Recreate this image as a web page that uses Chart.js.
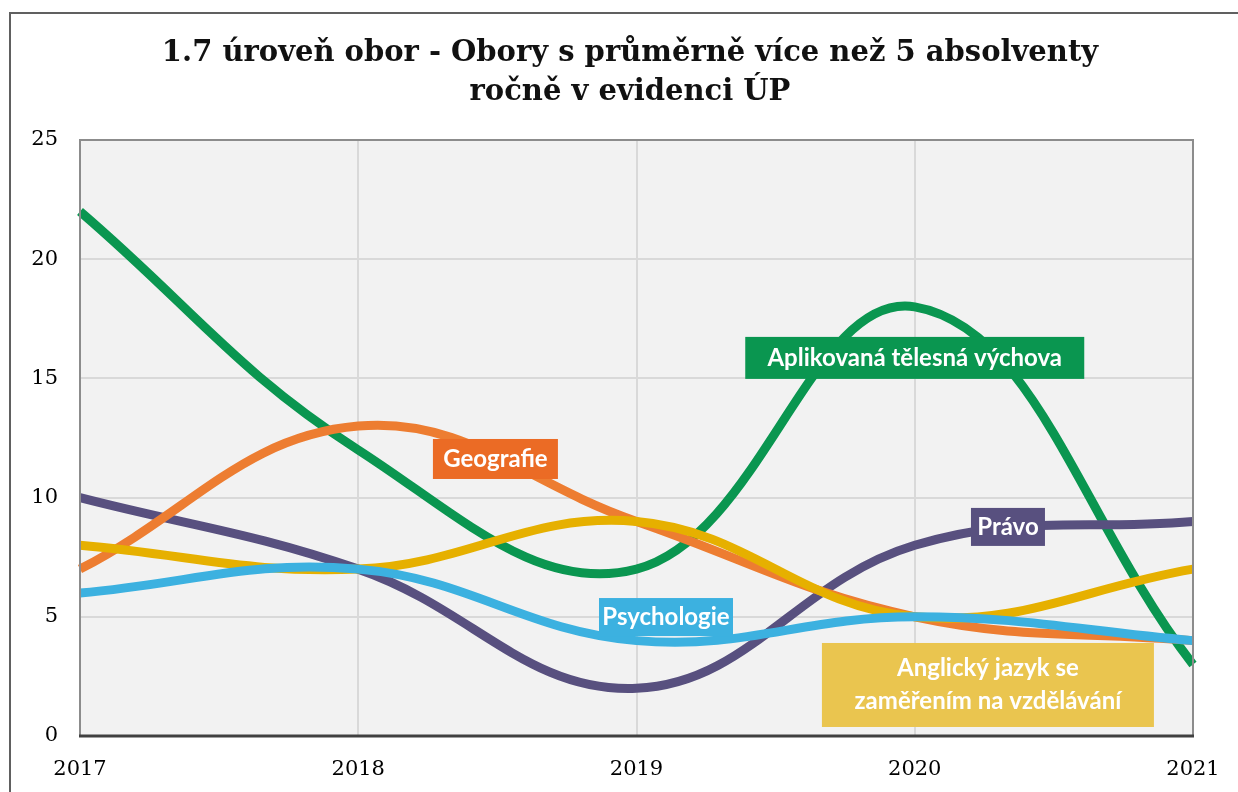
<!DOCTYPE html>
<html>
<head>
<meta charset="utf-8">
<script src="https://cdn.jsdelivr.net/npm/chart.js@4/dist/chart.umd.min.js"></script>
<style>
  html, body { margin: 0; padding: 0; background: #fff; }
  #wrap { width: 1238px; height: 792px; position: relative; }
</style>
</head>
<body>
<div id="wrap"><canvas id="chart" width="1238" height="792"></canvas></div>
<script>
// data
const years = ["2017", "2018", "2019", "2020", "2021"];
const aplikovana = [22, 12, 7, 18, 3];
const geografie = [7, 13, 9, 5, 4];
const pravo = [10, 7, 2, 8, 9];
const anglicky = [8, 7, 9, 5, 7];
const psychologie = [6, 7, 4, 5, 4];
const yTicks = [0, 5, 10, 15, 20, 25];

const titleLines = ["1.7 úroveň obor - Obory s průměrně více než 5 absolventy", "ročně v evidenci ÚP"];

// label boxes, anchored in data units (x = category index, y = value)
const seriesLabels = [
  { text: ["Aplikovaná tělesná výchova"], x: 3.0, y: 15.86, w: 339, h: 42, bg: "#0a9650" },
  { text: ["Geografie"], x: 1.493, y: 11.62, w: 125, h: 40, bg: "#eb6b25" },
  { text: ["Právo"], x: 3.335, y: 8.77, w: 74, h: 38, bg: "#58507f" },
  { text: ["Psychologie"], x: 2.106, y: 4.99, w: 134, h: 38, bg: "#3cb1e0" },
  { text: ["Anglický jazyk se", "zaměřením na vzdělávání"], x: 3.263, y: 2.14, w: 332, h: 84, bg: "#eac54f" }
];

const frame = {
  id: "frame",
  beforeDraw(chart) {
    const { ctx, chartArea: a } = chart;
    ctx.save();
    ctx.strokeStyle = "#606060";
    ctx.lineWidth = 2;
    ctx.strokeRect(10, 13, 1300, 900);
    ctx.fillStyle = "#f2f2f2";
    ctx.fillRect(a.left, a.top, a.right - a.left, a.bottom - a.top);
    // title
    ctx.fillStyle = "#111";
    ctx.font = "bold 29px 'DejaVu Serif'";
    ctx.textAlign = "center";
    ctx.textBaseline = "middle";
    ctx.fillText(titleLines[0], 630, 53);
    ctx.fillText(titleLines[1], 630, 92);
    ctx.restore();
  },
  afterDatasetsDraw(chart) {
    const { ctx, chartArea: a, scales } = chart;
    ctx.save();
    ctx.strokeStyle = "#8c8c8c";
    ctx.lineWidth = 2;
    ctx.beginPath();
    ctx.moveTo(a.left, a.bottom);
    ctx.lineTo(a.left, a.top);
    ctx.lineTo(a.right, a.top);
    ctx.lineTo(a.right, a.bottom);
    ctx.stroke();
    ctx.strokeStyle = "#404040";
    ctx.lineWidth = 3;
    ctx.beginPath();
    ctx.moveTo(a.left - 1, a.bottom);
    ctx.lineTo(a.right + 1, a.bottom);
    ctx.stroke();

    ctx.font = "bold 24px Lato";
    ctx.textAlign = "center";
    ctx.textBaseline = "middle";
    seriesLabels.forEach(l => {
      const cx = scales.x.getPixelForValue(l.x);
      const cy = scales.y.getPixelForValue(l.y);
      ctx.fillStyle = l.bg;
      ctx.fillRect(cx - l.w / 2, cy - l.h / 2, l.w, l.h);
      ctx.fillStyle = "#fff";
      const lh = 33;
      l.text.forEach((t, i) => {
        ctx.fillText(t, cx, cy + (i - (l.text.length - 1) / 2) * lh);
      });
    });
    ctx.restore();
  }
};

const line = (label, data, color) => ({
  label, data,
  borderColor: color,
  borderWidth: 9,
  tension: 0.4,
  pointRadius: 0,
  fill: false
});

new Chart(document.getElementById("chart"), {
  type: "line",
  data: {
    labels: years,
    datasets: [
      line("Psychologie", psychologie, "#3cb1e0"),
      line("Anglický jazyk se zaměřením na vzdělávání", anglicky, "#e6b000"),
      line("Geografie", geografie, "#ed7d31"),
      line("Právo", pravo, "#58507f"),
      line("Aplikovaná tělesná výchova", aplikovana, "#0a9650")
    ]
  },
  options: {
    responsive: false,
    animation: false,
    layout: { padding: { top: 140, right: 45, left: 0, bottom: 0 } },
    plugins: { legend: { display: false }, tooltip: { enabled: false } },
    scales: {
      x: {
        offset: false,
        grid: { color: "#d9d9d9", lineWidth: 2, drawTicks: false },
        border: { display: false },
        ticks: { color: "#000", font: { family: "'DejaVu Serif'", size: 21 }, padding: 21, maxRotation: 0 },
        afterFit: s => { s.height = 56; s.paddingLeft = 0; s.paddingRight = 0; }
      },
      y: {
        min: 0, max: 25,
        afterBuildTicks: s => { s.ticks = yTicks.map(v => ({ value: v })); },
        grid: { color: "#d9d9d9", lineWidth: 2, drawTicks: false },
        border: { display: false },
        ticks: { color: "#000", font: { family: "'DejaVu Serif'", size: 21 }, padding: 22 },
        afterFit: s => { s.width = 80; }
      }
    }
  },
  plugins: [frame]
});
</script>
</body>
</html>
